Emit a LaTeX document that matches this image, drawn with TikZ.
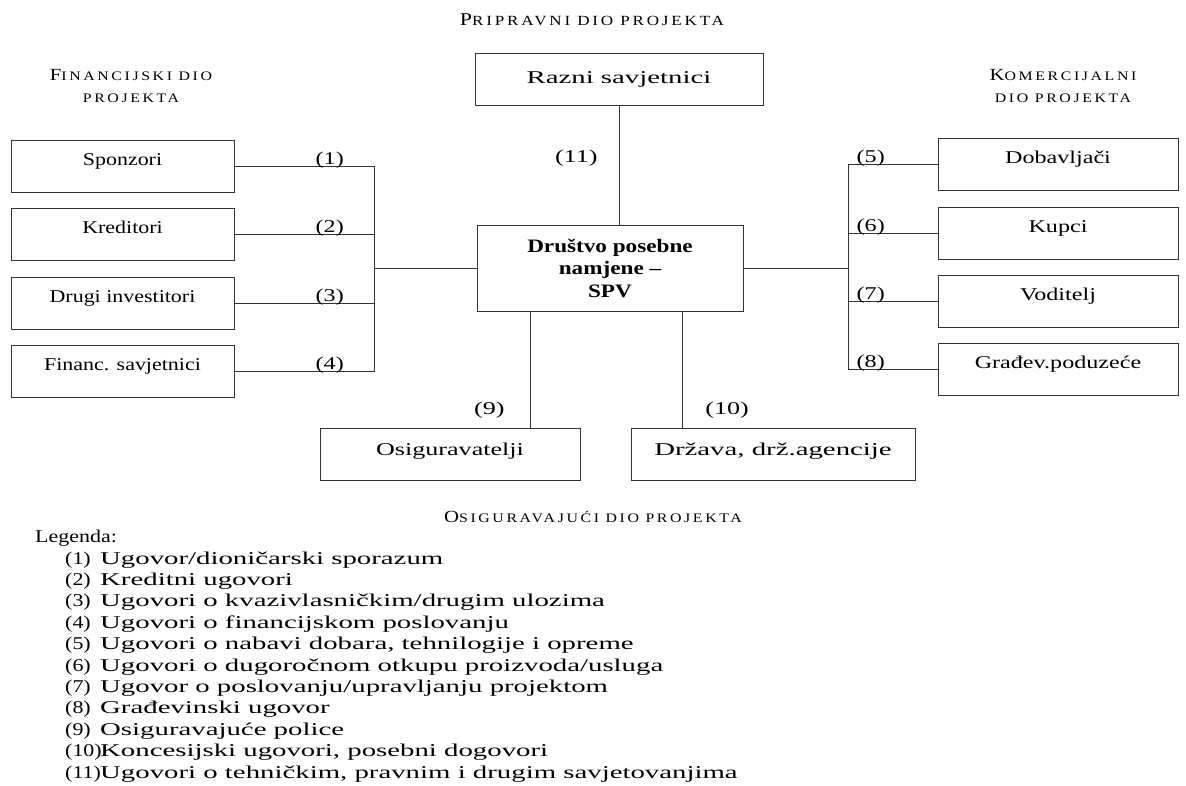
\documentclass[tikz,border=0pt]{standalone}
\usepackage{fontspec}
\setmainfont[FakeStretch=1.22]{Liberation Serif}
\newfontfamily\capsfont[FakeStretch=1.22,LetterSpace=20]{Liberation Serif}
\newfontfamily\wideA[FakeStretch=1.6]{Liberation Serif}
\newfontfamily\wideB[FakeStretch=1.45]{Liberation Serif}
\newfontfamily\wideC[FakeStretch=1.34]{Liberation Serif}
\usetikzlibrary{
    calc,
    positioning
}
\newcommand{\headsc}[3][13]{{\capsfont\fontsize{\numexpr#1+4\relax}{22}\selectfont #2}{\capsfont\fontsize{#1}{22}\selectfont #3}}
\newcommand{\legitem}[2]{\hspace*{30pt}\makebox[35pt][l]{#1}{\wideA #2}}
\tikzset{
    box/.style={draw=black!80, line width=0.9pt, minimum height=52pt, font=\fontsize{18}{21}\selectfont},
    lbox/.style={box, minimum width=223pt, text height=12pt, text depth=13pt},
    rbox/.style={box, minimum width=240pt, text height=12pt, text depth=13pt, font=\fontsize{18}{21}\selectfont\wideC},
    bbox/.style={box, text height=12pt, text depth=10pt, font=\fontsize{18}{21}\selectfont\wideB},
    num/.style={font=\fontsize{18}{21}\selectfont\wideC, inner sep=1pt},
    bnum/.style={font=\fontsize{18}{21}\selectfont\wideB, inner sep=1pt},
    conn/.style={draw=black!80, line width=0.9pt}
}

\begin{document}
\begin{tikzpicture}[x=1pt, y=-1pt]
    \useasboundingbox (0,0) rectangle (1186,785);
    % headings
    \node (hprip) at (592,20) {\headsc[14]{P}{RIPRAVNI DIO PROJEKTA}};
    \node[align=center, font=\fontsize{13}{22}\selectfont] (hfin) at (131,86) {\headsc{F}{INANCIJSKI DIO}\\\headsc{}{PROJEKTA}};
    \node[align=center, font=\fontsize{13}{22}\selectfont] (hkom) at (1063,86) {\headsc{K}{OMERCIJALNI}\\\headsc{}{DIO PROJEKTA}};
    \node (hosig) at (593,517) {\headsc{O}{SIGURAVAJUĆI DIO PROJEKTA}};

    % boxes
    \node[box, minimum width=288pt, font=\fontsize{18}{21}\selectfont\wideA] (razni) at (619,79) {Razni savjetnici};
    \node[box, minimum width=266pt, minimum height=86pt, align=center,
          font=\fontsize{19}{22.5}\selectfont\bfseries] (spv) at (610,268) {Društvo posebne\\namjene --\\SPV};
    \node[lbox] (spon) at (122.5,166) {Sponzori};
    \node[lbox] (kred) at (122.5,234) {Kreditori};
    \node[lbox] (drug) at (122.5,303) {Drugi investitori};
    \node[lbox] (fin) at (122.5,371) {Financ. savjetnici};
    \node[rbox] (dob) at (1058,164) {Dobavljači};
    \node[rbox] (kup) at (1058,233) {Kupci};
    \node[rbox] (vod) at (1058,301) {Voditelj};
    \node[rbox] (grad) at (1058,369) {Građev.poduzeće};
    \node[bbox, minimum width=260pt] (osig) at (450,454) {Osiguravatelji};
    \node[bbox, minimum width=284pt, font=\fontsize{18}{21}\selectfont\wideA] (drz) at (773,454) {Država, drž.agencije};

    % connectors
    \coordinate (lbus) at ($(spv.west)+(-102,0)$);
    \coordinate (rbus) at ($(spv.east)+(105,0)$);
    \draw[conn] (spon.east) -- node[num, pos=0.68, above=-4pt] {(1)} (spon.east -| lbus);
    \draw[conn] (kred.east) -- node[num, pos=0.68, above=-4pt] {(2)} (kred.east -| lbus);
    \draw[conn] (drug.east) -- node[num, pos=0.68, above=-4pt] {(3)} (drug.east -| lbus);
    \draw[conn] (fin.east) -- node[num, pos=0.68, above=-4pt] {(4)} (fin.east -| lbus);
    \draw[conn] (spon.east -| lbus) -- (fin.east -| lbus);
    \draw[conn] (lbus) -- (spv.west);
    \draw[conn] (dob.west -| rbus) -- node[num, pos=0.25, above=-4pt] {(5)} (dob.west);
    \draw[conn] (kup.west -| rbus) -- node[num, pos=0.25, above=-4pt] {(6)} (kup.west);
    \draw[conn] (vod.west -| rbus) -- node[num, pos=0.25, above=-4pt] {(7)} (vod.west);
    \draw[conn] (grad.west -| rbus) -- node[num, pos=0.25, above=-4pt] {(8)} (grad.west);
    \draw[conn] (dob.west -| rbus) -- (grad.west -| rbus);
    \draw[conn] (spv.east) -- (rbus);
    \draw[conn] (razni.south) -- node[bnum, pos=0.44, left=20pt] {(11)} (razni.south |- spv.north);
    \draw[conn] ([xshift=-80pt]spv.south) -- node[bnum, pos=0.85, left=24pt] {(9)} ([xshift=80pt]osig.north);
    \draw[conn] ([xshift=72pt]spv.south) -- node[bnum, pos=0.85, right=22pt] {(10)} ([xshift=-91pt]drz.north);

    % legend
    \node[anchor=north west, align=left, inner sep=0pt, font=\fontsize{18}{21.4}\selectfont] (legend) at (35,530) {%
        Legenda:\\
        \legitem{(1)}{Ugovor/dioničarski sporazum}\\
        \legitem{(2)}{Kreditni ugovori}\\
        \legitem{(3)}{Ugovori o kvazivlasničkim/drugim ulozima}\\
        \legitem{(4)}{Ugovori o financijskom poslovanju}\\
        \legitem{(5)}{Ugovori o nabavi dobara, tehnilogije i opreme}\\
        \legitem{(6)}{Ugovori o dugoročnom otkupu proizvoda/usluga}\\
        \legitem{(7)}{Ugovor o poslovanju/upravljanju projektom}\\
        \legitem{(8)}{Građevinski ugovor}\\
        \legitem{(9)}{Osiguravajuće police}\\
        \legitem{(10)}{Koncesijski ugovori, posebni dogovori}\\
        \legitem{(11)}{Ugovori o tehničkim, pravnim i drugim savjetovanjima}};
\end{tikzpicture}
\end{document}
